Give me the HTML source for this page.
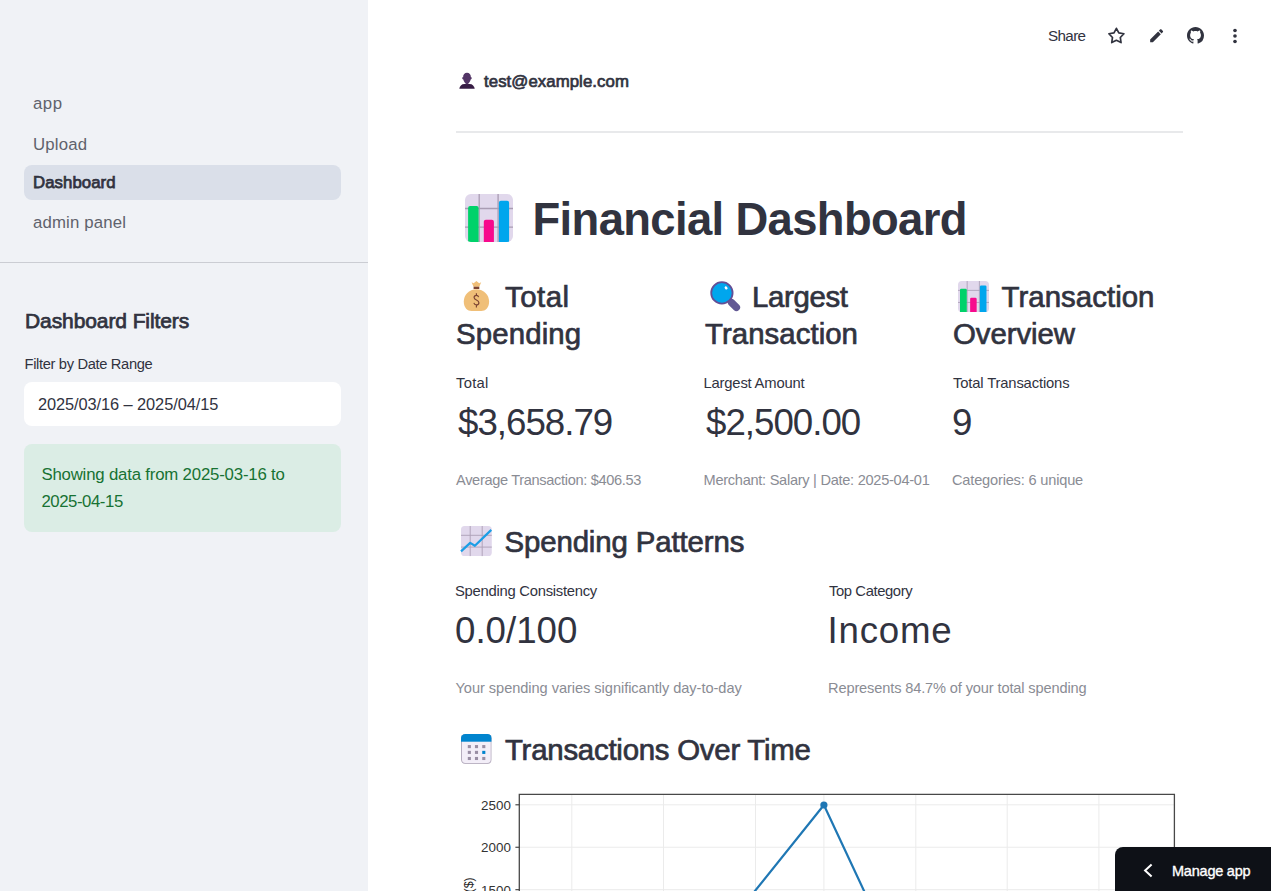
<!DOCTYPE html>
<html><head><meta charset="utf-8"><title>Financial Dashboard</title>
<style>
html,body{margin:0;padding:0;width:1271px;height:891px;overflow:hidden;background:#fff}
#root{position:relative;width:1271px;height:891px;overflow:hidden;background:#fff;font-family:"Liberation Sans",sans-serif;color:#31333f}
.t{position:absolute;white-space:nowrap;line-height:1}
.ic{position:absolute;overflow:visible}
.box{position:absolute}
</style></head><body><div id="root">

<div class="box" style="left:0;top:0;width:368px;height:891px;background:#f0f2f6"></div>
<div class="box" style="left:24px;top:165px;width:317px;height:35px;border-radius:8px;background:#dadfe9"></div>
<div class="box" style="left:0;top:262px;width:368px;height:1px;background:#cbcdd3"></div>
<div class="box" style="left:24px;top:382px;width:317px;height:44px;border-radius:8px;background:#fff"></div>
<div class="box" style="left:24px;top:444px;width:317px;height:87.6px;border-radius:8px;background:#dbede5"></div>
<div class="t" id="nav_app" style="left:33.00px;top:95.72px;font-size:16.8px;font-weight:400;letter-spacing:0.500px;color:#60626c">app</div>
<div class="t" id="nav_upload" style="left:33.00px;top:136.72px;font-size:16.8px;font-weight:400;letter-spacing:0.200px;color:#60626c">Upload</div>
<div class="t" id="nav_dash" style="left:33.00px;top:174.72px;font-size:16.8px;font-weight:400;letter-spacing:0.062px;color:#31333f;-webkit-text-stroke:0.75px #31333f">Dashboard</div>
<div class="t" id="nav_admin" style="left:33.00px;top:214.72px;font-size:16.8px;font-weight:400;letter-spacing:0.150px;color:#60626c">admin panel</div>
<div class="t" id="sb_h" style="left:25.00px;top:310.15px;font-size:21px;font-weight:400;letter-spacing:-0.094px;color:#31333f;-webkit-text-stroke:0.75px #31333f">Dashboard Filters</div>
<div class="t" id="sb_label" style="left:24.50px;top:356.50px;font-size:14.7px;font-weight:400;letter-spacing:-0.342px;color:#31333f">Filter by Date Range</div>
<div class="t" id="sb_input" style="left:38.00px;top:396.06px;font-size:16.4px;font-weight:400;letter-spacing:-0.091px;color:#31333f">2025/03/16 – 2025/04/15</div>
<div class="t" id="sb_s1" style="left:41.40px;top:466.72px;font-size:16.8px;font-weight:400;letter-spacing:-0.187px;color:#177233">Showing data from 2025-03-16 to</div>
<div class="t" id="sb_s2" style="left:41.40px;top:493.82px;font-size:16.8px;font-weight:400;letter-spacing:-0.444px;color:#177233">2025-04-15</div>
<div class="t" id="share" style="left:1048.00px;top:28.08px;font-size:15.2px;font-weight:400;letter-spacing:-0.625px;color:#31333f">Share</div>
<svg class="ic" style="left:1100px;top:20px" width="32" height="32" viewBox="0 0 32 32"><path d="M16.40 8.30 L18.81 12.88 L23.91 13.76 L20.30 17.47 L21.04 22.59 L16.40 20.30 L11.76 22.59 L12.50 17.47 L8.89 13.76 L13.99 12.88Z" fill="none" stroke="#31333f" stroke-width="1.7" stroke-linejoin="round"/></svg>
<svg class="ic" style="left:1147.8px;top:26.8px" width="17.3" height="17.3" viewBox="0 0 24 24"><path fill="#31333f" d="M3 17.25V21h3.75L17.81 9.94l-3.75-3.75L3 17.25zM20.71 7.04c.39-.39.39-1.02 0-1.41l-2.34-2.34c-.39-.39-1.020-.39-1.41 0l-1.83 1.83 3.75 3.75 1.83-1.83z"/></svg>
<svg class="ic" style="left:1187px;top:27px" width="17" height="17" viewBox="0 0 16 16"><path fill="#31333f" d="M8 0C3.58 0 0 3.58 0 8c0 3.54 2.29 6.53 5.47 7.59.4.07.55-.17.55-.38 0-.19-.01-.82-.01-1.49-2.01.37-2.530-.49-2.69-.94-.09-.23-.48-.94-.82-1.13-.28-.15-.68-.52-.01-.53.63-.01 1.08.58 1.23.82.72 1.21 1.87.87 2.33.66.07-.52.28-.87.51-1.07-1.78-.2-3.64-.89-3.64-3.95 0-.87.31-1.59.82-2.15-.08-.2-.36-1.02.08-2.12 0 0 .67-.21 2.2.82.64-.18 1.32-.27 2-.27.68 0 1.36.09 2 .27 1.53-1.04 2.2-.82 2.2-.82.44 1.1.16 1.92.08 2.12.51.56.82 1.27.82 2.15 0 3.07-1.87 3.75-3.65 3.95.29.25.54.73.54 1.48 0 1.07-.01 1.93-.01 2.2 0 .21.15.46.55.38A8.013 8.013 0 0016 8c0-4.42-3.58-8-8-8z"/></svg>
<svg class="ic" style="left:1224px;top:25px" width="22" height="22" viewBox="0 0 24 24"><g fill="#31333f"><circle cx="12" cy="6" r="2"/><circle cx="12" cy="12" r="2"/><circle cx="12" cy="18" r="2"/></g></svg>
<svg class="ic" style="left:455px;top:68px" width="24" height="24" viewBox="0 0 24 24">
<path d="M4.3 20.8C4.6 18 6.5 15.9 9.5 15.9H14.5C17.5 15.9 19.4 18 19.7 20.8Z" fill="#361c44"/>
<path d="M8.1 9.3C8.1 6.6 9.6 4.85 12 4.85S15.9 6.6 15.9 9.3L16.8 9.6C16.8 11 16.3 11.4 15.7 11.5C15.3 13.4 14.3 14.6 13.4 15.2V16.2H10.6V15.2C9.7 14.6 8.7 13.4 8.3 11.5C7.7 11.4 7.1 11 7.1 9.6Z" fill="#533566"/>
</svg>
<div class="t" id="user" style="left:484.00px;top:73.72px;font-size:16.8px;font-weight:400;letter-spacing:0.067px;color:#31333f;-webkit-text-stroke:0.7px #31333f">test@example.com</div>
<div class="box" style="left:456px;top:131px;width:727px;height:2px;background:#e8e9eb"></div>
<svg class="ic" style="left:465px;top:194px" width="48" height="48" viewBox="0 0 48 48">
<defs><clipPath id="bc465"><rect x="0" y="0" width="48" height="48" rx="6"/></clipPath></defs>
<g clip-path="url(#bc465)">
<rect x="0" y="0" width="48" height="48" fill="#e1d8ec"/>
<path d="M14.2 0V48M33.1 0V48M0 14.5H48M0 33.2H48" stroke="#a99cb3" stroke-width="1.3"/>
<rect x="3.1" y="12" width="10.5" height="40" rx="2" fill="#00d26a"/>
<rect x="18.8" y="25.8" width="10.1" height="30" rx="2" fill="#f70a8d"/>
<rect x="33.9" y="6.8" width="10.2" height="45" rx="2" fill="#00a6ed"/>
</g></svg>
<div class="t" id="title" style="left:532.50px;top:196.71px;font-size:45.4px;font-weight:700;letter-spacing:-0.639px;color:#31333f">Financial Dashboard</div>
<svg class="ic" style="left:458px;top:277px" width="38" height="38" viewBox="0 0 38 38">
<path d="M13.6 5.2L15.6 6.3L18.4 4.1L21.2 6.3L23.2 5.2L21.3 9.7H15.5Z" fill="#f0bf78"/>
<rect x="15.6" y="9.7" width="5.7" height="2.3" fill="#7d4533"/>
<path d="M18.4 12.3C11 12.3 5.8 18 5.8 24.6C5.8 31 9.5 34.1 13.5 34.1H23.3C27.3 34.1 31.1 31 31.1 24.6C31.1 18 25.8 12.3 18.4 12.3Z" fill="#f0bf78"/>
<path d="M20.6 20.2C20.3 19 19.5 18.4 18.4 18.4C17 18.4 16.1 19.3 16.1 20.5C16.1 23.4 20.9 22.6 20.9 25.7C20.9 27 19.9 27.9 18.4 27.9C17.1 27.9 16.2 27.2 15.9 25.9M18.4 16.3V18.4M18.4 27.9V30.6" fill="none" stroke="#7d4533" stroke-width="1.2"/>
</svg>
<svg class="ic" style="left:706px;top:277px" width="38" height="38" viewBox="0 0 38 38">
<path d="M25.6 25.6L30.4 30.4" stroke="#635994" stroke-width="7.4" stroke-linecap="round"/>
<circle cx="15.9" cy="15.9" r="10.7" fill="#00a6ed" stroke="#634f96" stroke-width="1.8"/>
<ellipse cx="20.1" cy="10.9" rx="1.3" ry="1.8" transform="rotate(-35 20.1 10.9)" fill="#fff"/>
</svg>
<svg class="ic" style="left:958px;top:281px" width="31" height="31" viewBox="0 0 48 48">
<defs><clipPath id="bc958"><rect x="0" y="0" width="48" height="48" rx="6"/></clipPath></defs>
<g clip-path="url(#bc958)">
<rect x="0" y="0" width="48" height="48" fill="#e1d8ec"/>
<path d="M14.2 0V48M33.1 0V48M0 14.5H48M0 33.2H48" stroke="#a99cb3" stroke-width="1.3"/>
<rect x="3.1" y="12" width="10.5" height="40" rx="2" fill="#00d26a"/>
<rect x="18.8" y="25.8" width="10.1" height="30" rx="2" fill="#f70a8d"/>
<rect x="33.9" y="6.8" width="10.2" height="45" rx="2" fill="#00a6ed"/>
</g></svg>
<div class="t" id="h_total" style="left:505.00px;top:282.01px;font-size:29.4px;font-weight:400;letter-spacing:0.500px;color:#31333f;-webkit-text-stroke:0.7px #31333f">Total</div>
<div class="t" id="h_spending" style="left:456.00px;top:319.01px;font-size:29.4px;font-weight:400;letter-spacing:0.143px;color:#31333f;-webkit-text-stroke:0.7px #31333f">Spending</div>
<div class="t" id="h_largest" style="left:752.00px;top:282.01px;font-size:29.4px;font-weight:400;letter-spacing:-0.333px;color:#31333f;-webkit-text-stroke:0.7px #31333f">Largest</div>
<div class="t" id="h_trans" style="left:705.00px;top:319.01px;font-size:29.4px;font-weight:400;letter-spacing:0.050px;color:#31333f;-webkit-text-stroke:0.7px #31333f">Transaction</div>
<div class="t" id="h_trans2" style="left:1001.50px;top:282.01px;font-size:29.4px;font-weight:400;letter-spacing:0.050px;color:#31333f;-webkit-text-stroke:0.7px #31333f">Transaction</div>
<div class="t" id="h_overview" style="left:953.00px;top:319.01px;font-size:29.4px;font-weight:400;letter-spacing:-0.071px;color:#31333f;-webkit-text-stroke:0.7px #31333f">Overview</div>
<div class="t" id="m1_label" style="left:456.00px;top:376.42px;font-size:14.8px;font-weight:400;letter-spacing:0.250px;color:#31333f">Total</div>
<div class="t" id="m1_val" style="left:458.00px;top:404.81px;font-size:36.7px;font-weight:400;letter-spacing:-1.002px;color:#31333f">$3,658.79</div>
<div class="t" id="m1_cap" style="left:456.00px;top:472.59px;font-size:14.6px;font-weight:400;letter-spacing:-0.333px;color:#8a8c94">Average Transaction: $406.53</div>
<div class="t" id="m2_label" style="left:703.50px;top:376.42px;font-size:14.8px;font-weight:400;letter-spacing:-0.192px;color:#31333f">Largest Amount</div>
<div class="t" id="m2_val" style="left:706.00px;top:404.81px;font-size:36.7px;font-weight:400;letter-spacing:-1.000px;color:#31333f">$2,500.00</div>
<div class="t" id="m2_cap" style="left:703.50px;top:472.59px;font-size:14.6px;font-weight:400;letter-spacing:-0.279px;color:#8a8c94">Merchant: Salary | Date: 2025-04-01</div>
<div class="t" id="m3_label" style="left:953.00px;top:376.42px;font-size:14.8px;font-weight:400;letter-spacing:-0.159px;color:#31333f">Total Transactions</div>
<div class="t" id="m3_val" style="left:952.00px;top:404.81px;font-size:36.7px;font-weight:400;letter-spacing:0.000px;color:#31333f">9</div>
<div class="t" id="m3_cap" style="left:952.00px;top:472.59px;font-size:14.6px;font-weight:400;letter-spacing:-0.184px;color:#8a8c94">Categories: 6 unique</div>
<svg class="ic" style="left:461.3px;top:526px" width="30.8" height="30.1" viewBox="0 0 30.8 30.1">
<rect x="0" y="0" width="30.8" height="30.1" rx="3.6" fill="#e1d8ec"/>
<path d="M9.2 0V30.1M21.2 0V30.1M0 9.3H30.8M0 21.1H30.8" stroke="#ab9fb6" stroke-width="0.9"/>
<path d="M0 25.4L9.2 16.9L13.9 19.8L30.3 3.9" fill="none" stroke="#1c9ee6" stroke-width="2.2" stroke-linejoin="round"/>
</svg>
<div class="t" id="h_sp" style="left:504.50px;top:526.51px;font-size:29.4px;font-weight:400;letter-spacing:-0.125px;color:#31333f;-webkit-text-stroke:0.7px #31333f">Spending Patterns</div>
<div class="t" id="m4_label" style="left:455.00px;top:584.22px;font-size:14.8px;font-weight:400;letter-spacing:-0.263px;color:#31333f">Spending Consistency</div>
<div class="t" id="m4_val" style="left:455.00px;top:613.21px;font-size:36.7px;font-weight:400;letter-spacing:0.000px;color:#31333f">0.0/100</div>
<div class="t" id="m4_cap" style="left:455.50px;top:681.39px;font-size:14.6px;font-weight:400;letter-spacing:-0.045px;color:#8a8c94">Your spending varies significantly day-to-day</div>
<div class="t" id="m5_label" style="left:829.00px;top:584.22px;font-size:14.8px;font-weight:400;letter-spacing:-0.400px;color:#31333f">Top Category</div>
<div class="t" id="m5_val" style="left:827.60px;top:612.80px;font-size:36.7px;font-weight:400;letter-spacing:0.760px;color:#31333f">Income</div>
<div class="t" id="m5_cap" style="left:828.00px;top:681.39px;font-size:14.6px;font-weight:400;letter-spacing:-0.132px;color:#8a8c94">Represents 84.7% of your total spending</div>
<svg class="ic" style="left:461.3px;top:733.9px" width="30.7" height="29.9" viewBox="0 0 30.7 29.9">
<defs><clipPath id="calc"><rect x="0" y="0" width="30.7" height="29.9" rx="4.2"/></clipPath></defs>
<g clip-path="url(#calc)"><rect x="0" y="0" width="30.7" height="29.9" fill="#b6adbf"/>
<rect x="1" y="0" width="28.7" height="28.9" rx="3.4" fill="#f3eef8"/>
<rect x="0" y="0" width="30.7" height="7.7" fill="#0084ce"/></g>
<rect x="6.80" y="11.05" width="3.1" height="3.1" fill="#998ea4"/><rect x="13.95" y="11.05" width="3.1" height="3.1" fill="#998ea4"/><rect x="21.25" y="11.05" width="3.1" height="3.1" fill="#998ea4"/><rect x="6.80" y="16.85" width="3.1" height="3.1" fill="#998ea4"/><rect x="13.95" y="16.85" width="3.1" height="3.1" fill="#998ea4"/><rect x="21.25" y="16.85" width="3.1" height="3.1" fill="#0084ce"/><rect x="6.80" y="22.95" width="3.1" height="3.1" fill="#998ea4"/><rect x="13.95" y="22.95" width="3.1" height="3.1" fill="#998ea4"/><rect x="21.25" y="22.95" width="3.1" height="3.1" fill="#998ea4"/></svg>
<div class="t" id="h_tot" style="left:505.00px;top:735.01px;font-size:29.4px;font-weight:400;letter-spacing:-0.238px;color:#31333f;-webkit-text-stroke:0.7px #31333f">Transactions Over Time</div>
<svg class="ic" style="left:456px;top:780px" width="734" height="111" viewBox="456 780 734 111">
<line x1="571.8" y1="794.3" x2="571.8" y2="900" stroke="#ebebeb" stroke-width="1"/>
<line x1="663.5" y1="794.3" x2="663.5" y2="900" stroke="#ebebeb" stroke-width="1"/>
<line x1="755.5" y1="794.3" x2="755.5" y2="900" stroke="#ebebeb" stroke-width="1"/>
<line x1="823.9" y1="794.3" x2="823.9" y2="900" stroke="#ebebeb" stroke-width="1"/>
<line x1="915.8" y1="794.3" x2="915.8" y2="900" stroke="#ebebeb" stroke-width="1"/>
<line x1="1007.2" y1="794.3" x2="1007.2" y2="900" stroke="#ebebeb" stroke-width="1"/>
<line x1="1098.9" y1="794.3" x2="1098.9" y2="900" stroke="#ebebeb" stroke-width="1"/>
<line x1="519.3" y1="804.8" x2="1174.4" y2="804.8" stroke="#ebebeb" stroke-width="1"/>
<line x1="519.3" y1="847.25" x2="1174.4" y2="847.25" stroke="#ebebeb" stroke-width="1"/>
<line x1="519.3" y1="889.7" x2="1174.4" y2="889.7" stroke="#ebebeb" stroke-width="1"/>
<polyline points="747.7,900 823.9,805 868.3,900" fill="none" stroke="#1f77b4" stroke-width="2.2" stroke-linejoin="round"/>
<circle cx="823.9" cy="805" r="3.6" fill="#1f77b4"/>
<path d="M519.3 900V794.3H1174.4V900" fill="none" stroke="#484848" stroke-width="1.3"/>
<line x1="515.4" y1="804.8" x2="519.3" y2="804.8" stroke="#3a3a3a" stroke-width="1.1"/>
<line x1="515.4" y1="847.25" x2="519.3" y2="847.25" stroke="#3a3a3a" stroke-width="1.1"/>
<line x1="515.4" y1="889.7" x2="519.3" y2="889.7" stroke="#3a3a3a" stroke-width="1.1"/>
<text x="510.9" y="810.4" text-anchor="end" font-family="Liberation Sans" font-size="13.4" fill="#333">2500</text>
<text x="510.9" y="852.1" text-anchor="end" font-family="Liberation Sans" font-size="13.4" fill="#333">2000</text>
<text x="510.9" y="894.5" text-anchor="end" font-family="Liberation Sans" font-size="13.4" fill="#333">1500</text>
<text transform="translate(473.2 877.3) rotate(-90)" text-anchor="end" font-family="Liberation Sans" font-size="12.4" fill="#262626">Amount ($)</text>
</svg>
<div class="box" style="left:1115.2px;top:847px;width:155.8px;height:44px;border-radius:8px 0 0 0;background:#0e1117"></div>
<svg class="ic" style="left:1140px;top:860px" width="16" height="21" viewBox="0 0 16 21"><path d="M11.6 4.6L5.1 10.6L11.6 16.6" fill="none" stroke="#fff" stroke-width="2"/></svg>
<div class="t" id="manage" style="left:1172.00px;top:864.08px;font-size:14.5px;font-weight:400;letter-spacing:-0.222px;color:#ffffff;-webkit-text-stroke:0.35px #ffffff">Manage app</div>
</div></body></html>
